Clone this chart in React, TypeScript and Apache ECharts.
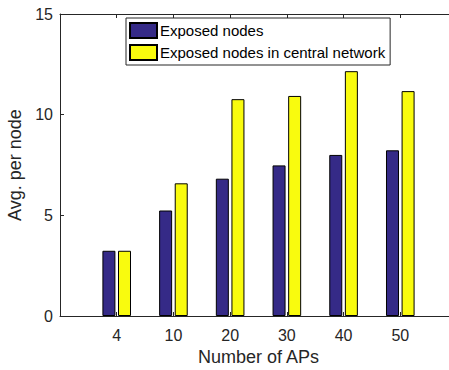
import React, { useEffect, useRef } from "react";
import * as echarts from "echarts";

const categories = ["4", "10", "20", "30", "40", "50"];
const exposedNodes = [3.24, 5.24, 6.82, 7.48, 8.0, 8.23];
const exposedCentral = [3.24, 6.59, 10.77, 10.93, 12.16, 11.17];
const seriesNames = ["Exposed nodes", "Exposed nodes in central network"];
const yTicks = { min: 0, max: 15, interval: 5 };

const FONT = "'Liberation Sans', Arial, Helvetica, sans-serif";
const TXT = "#262626";

export default function App() {
  const ref = useRef<HTMLDivElement>(null);
  useEffect(() => {
    if (!ref.current) return;
    const chart = echarts.init(ref.current, undefined, { renderer: "svg" });
    const axisData = ["", ...categories, ""];
    const pad = (arr: number[]) => ["-", ...arr, "-"];
    const tickStyle = { show: true, inside: true, length: 4, lineStyle: { color: TXT, width: 1 } };
    chart.setOption({
      animation: false,
      backgroundColor: "#ffffff",
      textStyle: { fontFamily: FONT, color: TXT },
      grid: {
        left: 60,
        top: 14,
        width: 397,
        height: 302,
        containLabel: false,
        outerBoundsMode: "none",
      },
      legend: {
        orient: "vertical",
        left: 126,
        top: 18,
        itemWidth: 27,
        itemHeight: 15,
        itemGap: 5,
        padding: [4, 5, 4, 3],
        borderColor: TXT,
        borderWidth: 1,
        backgroundColor: "#ffffff",
        icon: "rect",
        textStyle: { fontSize: 15, color: "#000", fontFamily: FONT, padding: [0, 0, 0, -2] },
        data: seriesNames,
      },
      xAxis: [
        {
          type: "category",
          data: axisData,
          boundaryGap: false,
          name: "Number of APs",
          nameLocation: "middle",
          nameGap: 31,
          nameTextStyle: { fontSize: 18, color: TXT, fontFamily: FONT },
          axisLine: { show: true, lineStyle: { color: TXT, width: 1 } },
          axisTick: { ...tickStyle, interval: 0 },
          axisLabel: { interval: 0, fontSize: 16, color: TXT, margin: 11, fontFamily: FONT },
          splitLine: { show: false },
        },
        {
          type: "category",
          data: axisData,
          boundaryGap: false,
          position: "top",
          axisLine: { show: true, lineStyle: { color: TXT, width: 1 } },
          axisTick: { ...tickStyle, interval: 0 },
          axisLabel: { show: false },
          splitLine: { show: false },
        },
      ],
      yAxis: {
        type: "value",
        min: yTicks.min,
        max: yTicks.max,
        interval: yTicks.interval,
        name: "Avg. per node",
        nameLocation: "middle",
        nameGap: 25,
        nameTextStyle: { fontSize: 18, color: TXT, fontFamily: FONT },
        axisLine: { show: true, lineStyle: { color: TXT, width: 1 } },
        axisTick: tickStyle,
        axisLabel: { fontSize: 16, color: TXT, margin: 7, fontFamily: FONT },
        splitLine: { show: false },
      },
      series: [
        {
          name: seriesNames[0],
          type: "bar",
          data: pad(exposedNodes),
          barWidth: 13,
          barGap: "20%",
          itemStyle: { color: "#352a87", borderColor: "#000", borderWidth: 1 },
        },
        {
          name: seriesNames[1],
          type: "bar",
          data: pad(exposedCentral),
          barWidth: 13,
          barGap: "20%",
          itemStyle: { color: "#f9fb0e", borderColor: "#000", borderWidth: 1 },
        },
      ],
    });
    return () => chart.dispose();
  }, []);
  return (
    <div
      ref={ref}
      style={{ position: "fixed", left: 0, top: 0, width: 449, height: 370, background: "#fff" }}
    />
  );
}
